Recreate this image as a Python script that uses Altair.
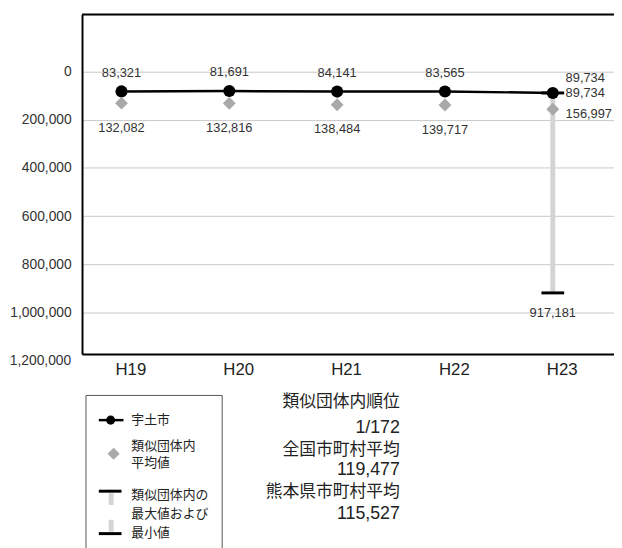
import altair as alt
import pandas as pd

years = ["H19", "H20", "H21", "H22", "H23"]
city = [83321, 81691, 84141, 83565, 89734]
avg = [132082, 132816, 138484, 139717, 156997]
rng_min = [None, None, None, None, 89734]
rng_max = [None, None, None, None, 917181]
y_ticks = [0, 200000, 400000, 600000, 800000, 1000000, 1200000]
legend_city = "宇土市"
legend_avg = ["類似団体内", "平均値"]
legend_rng = ["類似団体内の", "最大値および", "最小値"]
info_lines = ["類似団体内順位", "1/172", "全国市町村平均", "119,477", "熊本県市町村平均", "115,527"]

df = pd.DataFrame({"year": years, "city": city, "avg": avg, "min": rng_min, "max": rng_max})
df["last"] = df["year"] == years[-1]
last_df = df[df["last"]]
first_df = df[~df["last"]]
dummy = pd.DataFrame({"d": [0]})

NUM_FONT = "Liberation Sans"
JP_FONT = "Noto Sans CJK JP"

xscale = alt.Scale(type="point", padding=0.4668, align=0.392)
xaxis = alt.Axis(domainColor="black", domainWidth=2, ticks=False, labelFontSize=17,
                 labelFont=NUM_FONT, labelColor="#222", labelOffset=9, labelPadding=8,
                 labelAngle=0, grid=False, title=None)
X = alt.X("year:N", sort=years, scale=xscale, axis=xaxis)
yscale = alt.Scale(domain=[-235000, 1170000], reverse=True, nice=False, zero=False)
yaxis = alt.Axis(values=y_ticks[:-1], labelExpr="format(datum.value, ',')", grid=True,
                 gridColor="#c8c8c8", ticks=False, domainColor="black", domainWidth=2,
                 labelFont=NUM_FONT, labelFontSize=14, labelColor="#333", labelPadding=11,
                 title=None)


def Y(field):
    return alt.Y(field, scale=yscale, axis=yaxis)


base = alt.Chart(df)

rng_bar = alt.Chart(last_df).mark_rule(color="#d4d4d4", strokeWidth=5).encode(
    x=X, y=Y("min:Q"), y2="max:Q")
cap_max = alt.Chart(last_df).mark_tick(color="black", size=23, thickness=3, opacity=1).encode(x=X, y=Y("max:Q"))
cap_min = alt.Chart(last_df).mark_tick(color="black", size=23, thickness=3, opacity=1).encode(x=X, y=Y("min:Q"))
line = base.mark_line(color="black", strokeWidth=2.5).encode(x=X, y=Y("city:Q"))
dots = base.mark_circle(size=150, color="black", opacity=1).encode(x=X, y=Y("city:Q"))
diamonds = base.mark_point(shape="diamond", filled=True, size=170, color="#a9a9a9",
                           opacity=1).encode(x=X, y=Y("avg:Q"))

tstyle = dict(font=NUM_FONT, fontSize=13, color="#333")
city_lbl = alt.Chart(first_df).mark_text(dy=-19, baseline="middle", **tstyle).encode(
    x=X, y=Y("city:Q"), text=alt.Text("city:Q", format=","))
avg_lbl = alt.Chart(first_df).mark_text(dy=25, baseline="middle", **tstyle).encode(
    x=X, y=Y("avg:Q"), text=alt.Text("avg:Q", format=","))
city_lbl_last = alt.Chart(last_df).mark_text(dx=13, dy=-15, align="left", baseline="middle", **tstyle).encode(
    x=X, y=Y("city:Q"), text=alt.Text("city:Q", format=","))
min_lbl = alt.Chart(last_df).mark_text(dx=13, dy=0, align="left", baseline="middle", **tstyle).encode(
    x=X, y=Y("min:Q"), text=alt.Text("min:Q", format=","))
avg_lbl_last = alt.Chart(last_df).mark_text(dx=13, dy=5, align="left", baseline="middle", **tstyle).encode(
    x=X, y=Y("avg:Q"), text=alt.Text("avg:Q", format=","))
max_lbl = alt.Chart(last_df).mark_text(dy=20, baseline="middle", **tstyle).encode(
    x=X, y=Y("max:Q"), text=alt.Text("max:Q", format=","))

bottom_lbl = alt.Chart(pd.DataFrame({"v": [y_ticks[-1]]})).mark_text(
    align="right", baseline="middle", font=NUM_FONT, fontSize=14, color="#333").encode(
    x=alt.value(-11), y=Y("v:Q"), text=alt.Text("v:Q", format=","))

top_rule = alt.Chart(dummy).mark_rule(color="black", strokeWidth=2).encode(
    x=alt.value(0), x2=alt.value(539), y=alt.value(0))

# legend
d = alt.Chart(dummy)
legend_layers = [
    d.mark_rect(fill="white", stroke="#555", strokeWidth=1).encode(
        x=alt.value(4), x2=alt.value(142), y=alt.value(386), y2=alt.value(620)),
    d.mark_rule(color="black", strokeWidth=2.5).encode(
        x=alt.value(17), x2=alt.value(42), y=alt.value(411)),
    d.mark_circle(size=85, color="black", opacity=1).encode(x=alt.value(29), y=alt.value(411)),
    d.mark_point(shape="diamond", filled=True, size=150, color="#a9a9a9", opacity=1).encode(
        x=alt.value(32), y=alt.value(445)),
    d.mark_rule(color="black", strokeWidth=3).encode(x=alt.value(17), x2=alt.value(40), y=alt.value(483)),
    d.mark_rule(color="#d4d4d4", strokeWidth=5).encode(x=alt.value(29.5), y=alt.value(485), y2=alt.value(497)),
    d.mark_rule(color="#d4d4d4", strokeWidth=5).encode(x=alt.value(29.5), y=alt.value(512), y2=alt.value(524)),
    d.mark_rule(color="black", strokeWidth=3).encode(x=alt.value(17), x2=alt.value(40), y=alt.value(526)),
]
leg_text_y = [411, 437, 455, 487, 506, 525]
leg_texts = [legend_city] + legend_avg + legend_rng
for t, yy in zip(leg_texts, leg_text_y):
    legend_layers.append(
        d.mark_text(text=t, align="left", baseline="middle", font=JP_FONT, fontSize=13,
                    color="#222").encode(x=alt.value(50), y=alt.value(yy)))

info_y = [393, 419, 441, 462, 484, 506]
info_layers = []
for i, (t, yy) in enumerate(zip(info_lines, info_y)):
    if i % 2 == 0:
        mk = d.mark_text(text=t, align="right", baseline="middle", font=JP_FONT, fontSize=17,
                         color="#222")
    else:
        mk = d.mark_text(text=t, align="right", baseline="middle", font=NUM_FONT, fontSize=18,
                         color="#222")
    info_layers.append(mk.encode(x=alt.value(322), y=alt.value(yy)))

chart = alt.layer(
    rng_bar, cap_max, cap_min, line, dots, diamonds,
    city_lbl, avg_lbl, city_lbl_last, min_lbl, avg_lbl_last, max_lbl, bottom_lbl, top_rule,
    *legend_layers, *info_layers,
).properties(
    width=539, height=344,
    padding={"left": 75, "top": 3, "right": 0, "bottom": 193},
    autosize=alt.AutoSizeParams(type="none"),
).configure_view(stroke=None).configure(background="white")

chart.save("out.html", embed_options={"renderer": "svg", "actions": False})
